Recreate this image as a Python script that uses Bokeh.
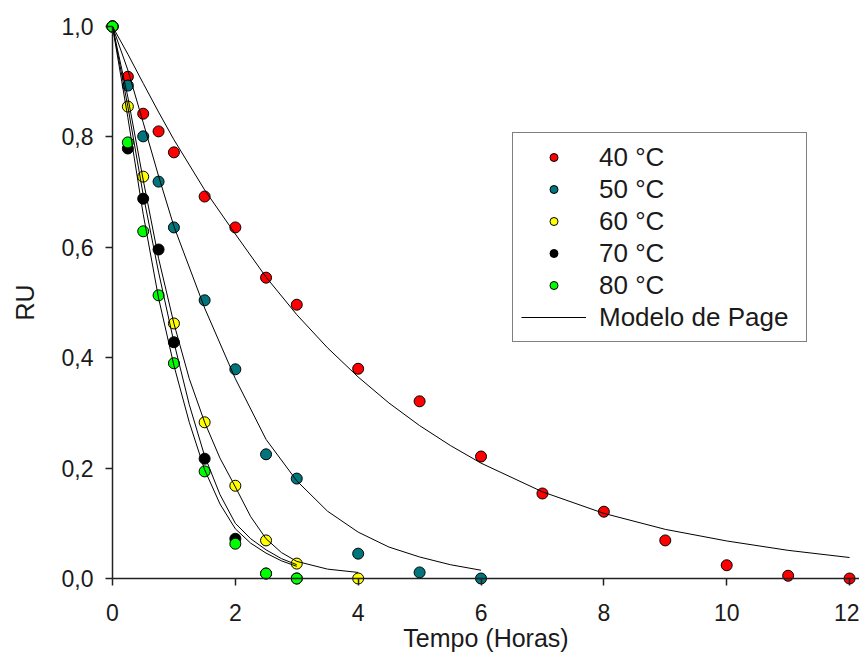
from bokeh.plotting import figure
from bokeh.models import (Range1d, FixedTicker, CustomJSTickFormatter, Legend,
                          LegendItem, ColumnDataSource)
from bokeh.embed import file_html
from bokeh.resources import INLINE

# ---- measured data (RU vs time in hours) ----
t40 = [0, 0.25, 0.5, 0.75, 1, 1.5, 2, 2.5, 3, 4, 5, 6, 7, 8, 9, 10, 11, 12]
ru40 = [1.0, 0.909, 0.842, 0.810, 0.772, 0.692, 0.636, 0.545, 0.496, 0.380,
        0.321, 0.221, 0.154, 0.121, 0.069, 0.024, 0.005, 0.0]

t50 = [0, 0.25, 0.5, 0.75, 1, 1.5, 2, 2.5, 3, 4, 5, 6]
ru50 = [1.0, 0.893, 0.801, 0.719, 0.636, 0.504, 0.379, 0.225, 0.181, 0.045, 0.011, 0.0]

t60 = [0, 0.25, 0.5, 1, 1.5, 2, 2.5, 3, 4]
ru60 = [1.0, 0.855, 0.728, 0.462, 0.283, 0.168, 0.069, 0.027, 0.0]

t70 = [0, 0.25, 0.5, 0.75, 1, 1.5, 2, 2.5, 3]
ru70 = [1.0, 0.779, 0.688, 0.596, 0.428, 0.217, 0.072, 0.009, 0.0]

t80 = [0, 0.25, 0.5, 0.75, 1, 1.5, 2, 2.5, 3]
ru80 = [1.0, 0.790, 0.629, 0.513, 0.390, 0.194, 0.063, 0.009, 0.0]

# ---- Page model curves ----
tc40 = [0, 0.25, 0.5, 0.75, 1, 1.5, 2, 2.5, 3, 3.5, 4, 4.5, 5, 5.5, 6, 7, 8, 9, 10, 11, 12]
rc40 = [1.0, 0.950, 0.897, 0.845, 0.795, 0.704, 0.624, 0.546, 0.478, 0.418, 0.365,
        0.318, 0.277, 0.241, 0.209, 0.157, 0.118, 0.089, 0.068, 0.051, 0.038]

tc50 = [0, 0.25, 0.5, 0.75, 1, 1.5, 2, 2.5, 3, 3.5, 4, 4.5, 5, 5.5, 6]
rc50 = [1.0, 0.921, 0.826, 0.729, 0.638, 0.490, 0.362, 0.252, 0.177, 0.122,
        0.084, 0.057, 0.039, 0.025, 0.015]

tc60 = [0, 0.25, 0.5, 0.75, 1, 1.25, 1.5, 1.75, 2, 2.25, 2.5, 2.75, 3, 3.5, 4]
rc60 = [1.0, 0.872, 0.722, 0.580, 0.462, 0.362, 0.283, 0.218, 0.166, 0.112,
        0.072, 0.047, 0.031, 0.017, 0.011]

tc70 = [0, 0.25, 0.5, 0.75, 1, 1.25, 1.5, 1.75, 2, 2.25, 2.5, 2.75, 3]
rc70 = [1.0, 0.855, 0.695, 0.555, 0.428, 0.315, 0.222, 0.152, 0.100, 0.072,
        0.052, 0.036, 0.025]

tc80 = [0, 0.25, 0.5, 0.75, 1, 1.25, 1.5, 1.75, 2, 2.25, 2.5, 2.75, 3]
rc80 = [1.0, 0.835, 0.660, 0.508, 0.386, 0.283, 0.197, 0.135, 0.090, 0.064,
        0.046, 0.032, 0.022]

labels = ["40 °C", "50 °C", "60 °C", "70 °C", "80 °C"]
colors = ["#ff0000", "#00757c", "#ffff00", "#000000", "#00ff00"]
x_ticks = [0, 2, 4, 6, 8, 10, 12]
y_ticks = [0.0, 0.2, 0.4, 0.6, 0.8, 1.0]

FONT = "Liberation Sans"

p = figure(width=859, height=656, output_backend="svg", toolbar_location=None,
           x_range=Range1d(-1.8235, 12.162), y_range=Range1d(-0.1413, 1.0471),
           min_border=0, min_border_left=0, min_border_right=0,
           min_border_top=0, min_border_bottom=0)
p.outline_line_color = None
p.grid.visible = False
p.background_fill_color = "white"

# axes drawn at data location 0
for ax in (p.xaxis[0], p.yaxis[0]):
    ax.fixed_location = 0
    ax.axis_line_color = "#222222"
    ax.axis_line_width = 1.5
    ax.major_tick_line_color = "#222222"
    ax.major_tick_line_width = 1.5
    ax.major_tick_in = 0
    ax.major_tick_out = 7
    ax.minor_tick_line_color = None
    ax.major_label_text_font = FONT
    ax.major_label_text_font_size = "23px"
    ax.major_label_text_color = "#1a1a1a"
    ax.axis_label_text_font = FONT
    ax.axis_label_text_font_size = "25px"
    ax.axis_label_text_font_style = "normal"
    ax.axis_label_text_color = "#1a1a1a"

p.xaxis[0].bounds = (0, 12.162)
p.xaxis[0].ticker = FixedTicker(ticks=x_ticks)
p.xaxis[0].major_label_standoff = 18
p.xaxis[0].axis_label = "Tempo (Horas)"
p.xaxis[0].axis_label_standoff = 0

p.yaxis[0].bounds = (0, 1)
p.yaxis[0].ticker = FixedTicker(ticks=y_ticks)
p.yaxis[0].formatter = CustomJSTickFormatter(code="return tick.toFixed(1).replace('.', ',');")
p.yaxis[0].major_label_standoff = 12
p.yaxis[0].axis_label = "RU"
p.yaxis[0].axis_label_standoff = 20

series = [(t40, ru40), (t50, ru50), (t60, ru60), (t70, ru70), (t80, ru80)]
curves = [(tc40, rc40), (tc50, rc50), (tc60, rc60), (tc70, rc70), (tc80, rc80)]

point_renderers = []
for (t, ru), c in zip(series, colors):
    src = ColumnDataSource(dict(t=t, ru=ru))
    r = p.scatter("t", "ru", source=src, size=11, marker="circle",
                  fill_color=c, line_color="black", line_width=1)
    point_renderers.append(r)

line_renderers = []
for tc, rc in curves:
    src = ColumnDataSource(dict(t=tc, ru=rc))
    r = p.line("t", "ru", source=src, line_color="black", line_width=1)
    line_renderers.append(r)

items = [LegendItem(label=lab, renderers=[r]) for lab, r in zip(labels, point_renderers)]
items.append(LegendItem(label="Modelo de Page", renderers=[line_renderers[0]]))

legend = Legend(items=items, location=(512, 314), orientation="vertical",
                border_line_color="black", border_line_width=1,
                background_fill_color="white", background_fill_alpha=1.0,
                padding=8, margin=0, spacing=0,
                glyph_width=65, glyph_height=20, label_height=32, label_width=199,
                label_standoff=13, label_text_font=FONT,
                label_text_font_size="26px", label_text_color="#1a1a1a")
p.add_layout(legend)

open("out.html", "w").write(file_html(p, INLINE))
